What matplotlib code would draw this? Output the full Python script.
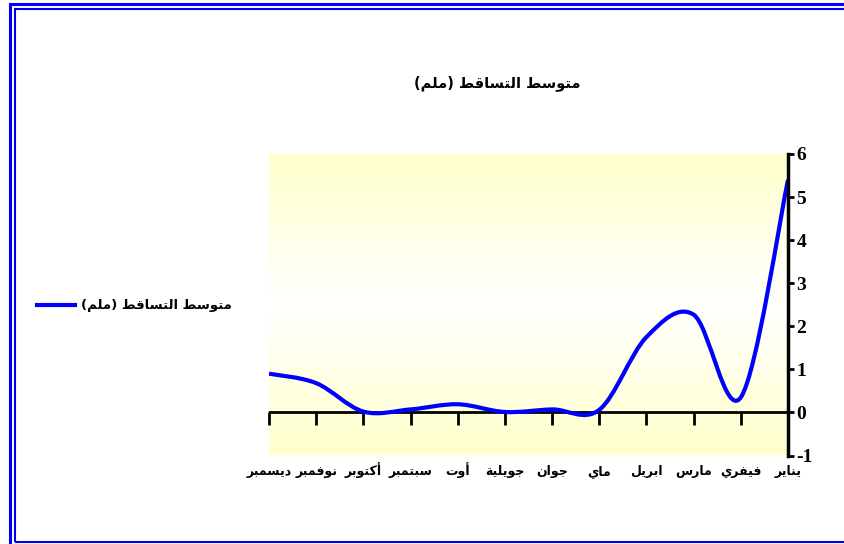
import numpy as np
import matplotlib
matplotlib.use("Agg")
import matplotlib.pyplot as plt
from matplotlib.path import Path
from matplotlib.patches import PathPatch, Rectangle
from matplotlib.lines import Line2D

# data (Jan .. Dec), Jan is drawn on the right
months = ["يناير", "فيفري", "مارس", "ابريل", "ماي", "جوان",
          "جويلية", "أوت", "سبتمبر", "أكتوبر", "نوفمبر", "ديسمبر"]
rain = [5.4, 0.35, 2.27, 1.75, 0.06, 0.07, 0.01, 0.19, 0.07, 0.02, 0.68, 0.9]
series_name = "متوسط التساقط (ملم)"
title = "متوسط التساقط (ملم)"
yticks = [-1, 0, 1, 2, 3, 4, 5, 6]

# minimal arabic shaping (matplotlib has no shaping / bidi)
DUAL = {'ب': 0xFE8F, 'ت': 0xFE95, 'ج': 0xFE9D, 'س': 0xFEB1, 'ط': 0xFEC1,
        'ف': 0xFED1, 'ق': 0xFED5, 'ك': 0xFED9, 'ل': 0xFEDD, 'م': 0xFEE1,
        'ن': 0xFEE5, 'ي': 0xFEF1}
RIGHT = {'ا': 0xFE8D, 'أ': 0xFE83, 'ة': 0xFE93, 'د': 0xFEA9, 'ر': 0xFEAD,
         'و': 0xFEED}


def shape(s):
    out = []
    for i, c in enumerate(s):
        if c not in DUAL and c not in RIGHT:
            out.append(c)
            continue
        prev = s[i - 1] if i > 0 else ''
        nxt = s[i + 1] if i + 1 < len(s) else ''
        jp = prev in DUAL
        jn = c in DUAL and (nxt in DUAL or nxt in RIGHT)
        base = DUAL.get(c, RIGHT.get(c))
        if jp and jn:
            form = 3
        elif jn:
            form = 2
        elif jp:
            form = 1
        else:
            form = 0
        out.append(chr(base + form))
    vis = ''.join(out)[::-1]
    return vis.translate(str.maketrans('()', ')('))


plt.rcParams['font.family'] = ['DejaVu Sans']

fig = plt.figure(figsize=(8.45, 5.44), dpi=100)
ax = fig.add_axes([269 / 845, 88.5 / 544, 519 / 845, 301.5 / 544])

# background gradient yellow - white - yellow
t = np.linspace(0, 1, 256)
k = np.abs(2 * t - 1)[:, None]
yellow = np.array([1.0, 1.0, 0.8])
grad = (1 - k)[..., None] * np.ones(3) + k[..., None] * yellow
ax.imshow(grad, extent=[0, 1, 0, 1], transform=ax.transAxes,
          aspect='auto', origin='lower', zorder=0)

x = np.arange(len(rain))
y = np.array(rain)

# excel style smoothed line as cubic bezier path
pts = list(zip(x, y))
verts = [pts[0]]
codes = [Path.MOVETO]
n = len(pts)
for i in range(n - 1):
    p0 = np.array(pts[max(i - 1, 0)])
    p1 = np.array(pts[i])
    p2 = np.array(pts[i + 1])
    p3 = np.array(pts[min(i + 2, n - 1)])
    c1 = p1 + (p2 - p0) / 6
    c2 = p2 - (p3 - p1) / 6
    verts += [tuple(c1), tuple(c2), tuple(p2)]
    codes += [Path.CURVE4] * 3
ax.add_patch(PathPatch(Path(verts, codes), facecolor='none',
                       edgecolor='#0000FF', lw=3, zorder=3,
                       capstyle='butt', joinstyle='round'))

ax.set_xlim(len(rain) - 1, 0)
ax.set_ylim(-1, 6)

ax.axhline(0, color='black', lw=2, zorder=2)
for s in ['left', 'top']:
    ax.spines[s].set_visible(False)
ax.spines['bottom'].set_position(('data', 0))
ax.spines['bottom'].set_visible(False)
ax.spines['right'].set_color('black')
ax.spines['right'].set_linewidth(2.5)
ax.spines['right'].set_zorder(4)

ax.yaxis.tick_right()
ax.set_yticks(yticks)
ax.set_yticklabels([str(v) for v in yticks], fontsize=14,
                   fontweight='bold', family='Liberation Serif')
ax.tick_params(axis='y', direction='out', length=4, width=2, pad=2)

ax.set_xticks(x)
ax.set_xticklabels([shape(m) for m in months], fontsize=9,
                   fontweight='bold')
ax.tick_params(axis='x', direction='out', length=9, width=2, pad=36)
for lbl in ax.get_xticklabels():
    lbl.set_va('baseline')

fig.text(497 / 845, 1 - 83 / 544, shape(title), ha='center', va='center',
         fontsize=10.5, fontweight='bold')

h = Line2D([], [], color='#0000FF', lw=3)
fig.legend([h], [shape(series_name)], loc='center left',
           bbox_to_anchor=(37 / 845, 1 - 306 / 544), frameon=False,
           borderaxespad=0, borderpad=0,
           handlelength=2.9, handletextpad=0.4, prop={'weight': 'bold',
                                                      'size': 9.5})

# double blue frame (cut at right and bottom)
fig.patches.append(Rectangle((10.5 / 845, -0.1), 1.2, 1 - 4.2 / 544 + 0.1,
                             transform=fig.transFigure, fill=False,
                             edgecolor='#0000FF', lw=2.2))
fig.patches.append(Rectangle((15 / 845, 1 - 541.5 / 544), 1.2,
                             (541.5 - 9.3) / 544,
                             transform=fig.transFigure, fill=False,
                             edgecolor='#0000FF', lw=1.5))

fig.savefig('out.png', dpi=100)
